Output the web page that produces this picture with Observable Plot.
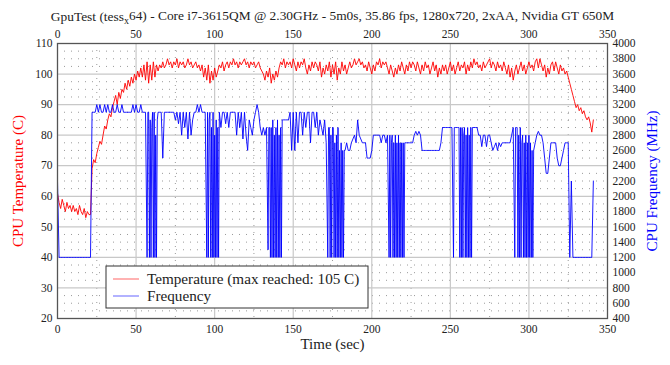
<!DOCTYPE html>
<html><head><meta charset="utf-8">
<script src="https://cdn.jsdelivr.net/npm/d3@7"></script>
<script src="https://cdn.jsdelivr.net/npm/@observablehq/plot@0.6"></script>
<style>html,body{margin:0;padding:0;background:#fff}</style>
</head><body><div id="chart"></div>
<script>
// ---- text ----
const titlePre = "GpuTest (tess";
const titleSub = "x";
const titlePost = "64) - Core i7-3615QM @ 2.30GHz - 5m0s, 35.86 fps, 1280x720, 2xAA, Nvidia GT 650M";
const xLabel = "Time (sec)";
const yLeftLabel = "CPU Temperature (C)";
const yRightLabel = "CPU Frequency (MHz)";
const legendNames = ["Temperature (max reached: 105 C)", "Frequency"];

// ---- ticks ----
const xTicks = [0, 50, 100, 150, 200, 250, 300, 350];
const tempTicks = [20, 30, 40, 50, 60, 70, 80, 90, 100, 110];
const freqTicks = [400, 600, 800, 1000, 1200, 1400, 1600, 1800, 2000, 2200, 2400, 2600, 2800, 3000, 3200, 3400, 3600, 3800, 4000];

// ---- data: one sample per second, t = 0 .. 341 ----
const temperature = [
  61, 58, 56, 59, 57, 55, 58, 56, 57, 55,
  57, 55, 56, 54, 57, 55, 54, 56, 53, 55,
  54, 54, 69, 72, 71, 74, 76, 78, 77, 80,
  83, 82, 85, 87, 86, 89, 91, 93, 90, 94,
  92, 95, 94, 97, 95, 98, 96, 99, 97, 100,
  98, 101, 99, 102, 99, 103, 98, 104, 97, 103,
  98, 104, 99, 103, 101, 103, 102, 104, 102, 103,
  105, 103, 104, 102, 104, 103, 105, 102, 104, 103,
  104, 102, 103, 105, 103, 104, 102, 103, 104, 102,
  103, 101, 103, 99, 102, 98, 103, 97, 101, 98,
  102, 99, 101, 103, 102, 104, 101, 103, 104, 102,
  104, 103, 105, 103, 104, 102, 104, 103, 104, 105,
  103, 104, 102, 104, 103, 104, 102, 103, 104, 102,
  101, 100, 98, 101, 99, 102, 97, 100, 98, 101,
  99, 102, 104, 103, 105, 102, 104, 103, 104, 102,
  105, 103, 101, 104, 102, 104, 103, 105, 102, 100,
  103, 101, 104, 102, 104, 103, 101, 104, 99, 102,
  100, 103, 101, 104, 99, 103, 100, 104, 98, 102,
  100, 104, 101, 103, 100, 102, 104, 102, 103, 105,
  103, 104, 105, 103, 104, 102, 103, 101, 104, 102,
  100, 103, 101, 104, 103, 105, 102, 104, 103, 104,
  102, 100, 103, 101, 99, 102, 100, 103, 101, 104,
  102, 100, 103, 101, 104, 102, 104, 103, 101, 104,
  102, 100, 103, 101, 104, 102, 103, 100, 102, 104,
  101, 103, 99, 102, 100, 103, 101, 103, 100, 102,
  104, 101, 103, 100, 102, 104, 101, 103, 102, 104,
  100, 103, 101, 104, 102, 105, 103, 104, 102, 103,
  101, 104, 102, 103, 104, 105, 102, 104, 103, 101,
  104, 102, 103, 101, 104, 102, 100, 103, 99, 102,
  98, 101, 103, 100, 102, 104, 101, 103, 100, 102,
  104, 102, 103, 101, 104, 105, 102, 105, 103, 101,
  103, 99, 102, 100, 103, 104, 101, 104, 102, 100,
  103, 101, 102, 100, 101, 99, 97, 95, 93, 91,
  89, 90, 88, 89, 87, 88, 86, 85, 86, 84,
  81, 85
];
const frequency = [
  2200, 1200, 1200, 1200, 1200, 1200, 1200, 1200, 1200, 1200,
  1200, 1200, 1200, 1200, 1200, 1200, 1200, 1200, 1200, 1200,
  1200, 1200, 3100, 3100, 3100, 3200, 3100, 3200, 3100, 3100,
  3200, 3100, 3200, 3100, 3100, 3200, 3100, 3100, 3200, 3100,
  3100, 3200, 3100, 3100, 3100, 3100, 3100, 3100, 3200, 3100,
  3200, 3100, 3100, 3200, 3100, 3100, 3100, 1200, 3100, 1200,
  3000, 1200, 2900, 1200, 3100, 3100, 3100, 2500, 3100, 3100,
  3100, 3100, 3100, 3100, 3100, 3000, 3100, 2950, 3100, 2800,
  3100, 2900, 3100, 2750, 3100, 2800, 3000, 3100, 3100, 3200,
  3100, 3200, 3100, 3100, 3100, 1200, 3000, 1200, 3100, 1200,
  2900, 1200, 1200, 3100, 2900, 3100, 3100, 2950, 3100, 2900,
  3100, 3100, 3100, 3100, 2800, 3100, 2900, 3100, 2750, 3100,
  2800, 2600, 3000, 2900, 2800, 3000, 3100, 3200, 3100, 2900,
  2800, 2900, 2800, 2900, 1300, 2900, 1200, 3000, 1200, 2800,
  1200, 2900, 1200, 3000, 3000, 3000, 3000, 3000, 3100, 2600,
  3100, 2600, 3100, 2700, 3100, 3100, 2800, 3100, 2900, 3100,
  3100, 2700, 3100, 3100, 2900, 3100, 2800, 3000, 2900, 2800,
  3000, 2700, 1200, 3000, 1200, 2800, 1200, 2900, 1200, 2600,
  1200, 2700, 1200, 2600, 2700, 2600, 2600, 2700, 2750, 2800,
  2700, 3000, 2800, 2750, 2700, 2700, 2700, 2500, 2500, 2500,
  2600, 2800, 2800, 2800, 2800, 2800, 2700, 2800, 2800, 2700,
  2800, 1200, 2800, 1200, 2700, 1200, 2800, 1200, 2700, 2700,
  1200, 2700, 2700, 2700, 2700, 2700, 2700, 2800, 2850, 2800,
  2850, 2800, 2600, 2600, 2600, 2600, 2600, 2600, 2600, 2600,
  2600, 2600, 2600, 2600, 2700, 2900, 2900, 2900, 2900, 2900,
  2900, 2900, 1200, 2900, 2900, 2900, 1200, 2900, 1200, 2800,
  1200, 2900, 1200, 1200, 2900, 2900, 2900, 2900, 2800, 2800,
  2650, 2800, 2800, 2650, 2800, 2800, 2700, 2600, 2650, 2700,
  2600, 2700, 2650, 2700, 2700, 2700, 2700, 2700, 2700, 2800,
  2900, 1200, 2900, 2900, 1200, 2800, 1200, 2700, 1200, 2800,
  1200, 2700, 1200, 2600, 2700, 2800, 2850, 2800, 2800, 2700,
  2500, 2300, 2300, 2500, 2700, 2700, 2700, 2700, 2500, 2400,
  2400, 2500, 2600, 2700, 2700, 2700, 1200, 2200, 1200, 1200,
  1200, 1200, 1200, 1200, 1200, 1200, 1200, 1200, 1200, 1200,
  1200, 2200
];
const sampleSeconds = 1;

// throttling bursts, read at half-second resolution (start second, MHz values)
const burstStep = 0.5;
const burst1Start = 57, burst1 = [1200, 3100, 3100, 1200, 3000, 1200, 2900, 3100, 1200, 3100, 1200, 2800, 1200, 3000];
const burst2Start = 95, burst2 = [1200, 3100, 1200, 3000, 3100, 1200, 2900, 1200, 3100, 1200, 2800, 1200, 3000, 1200, 2900, 1200];
const burst3Start = 134, burst3 = [1300, 2900, 2900, 1200, 2900, 1200, 3000, 1200, 2800, 1200, 2900, 1200, 3000, 1200, 2800, 1200, 2900, 1200];
const burst4Start = 172, burst4 = [1200, 2900, 2900, 1200, 2800, 1200, 2900, 2900, 1200, 2700, 1200, 2800, 1200, 2900, 1200, 2600, 1200, 2700, 1200, 2600, 1200, 2600];
const burst5Start = 211, burst5 = [1200, 2800, 1200, 2700, 2800, 1200, 2700, 1200, 2800, 1200, 2700, 1200, 2800, 1200, 2700, 1200, 2700, 1200, 2700, 1200];
const burst6Start = 252, burst6 = [1200, 2900, 2900, 2900, 2900, 2900, 2900, 2900, 1200, 2900, 1200, 2900, 1200, 2800, 2900, 1200, 2800, 1200, 2900, 1200, 2800, 1200, 2900, 1200];
const burst7Start = 291, burst7 = [1200, 2900, 2900, 2900, 1200, 2800, 1200, 2900, 1200, 2700, 2800, 1200, 2700, 1200, 2800, 1200, 2700, 1200, 2800, 1200, 2700, 1200, 2600, 1200];
const bursts = [[burst1Start, burst1], [burst2Start, burst2], [burst3Start, burst3], [burst4Start, burst4],
                [burst5Start, burst5], [burst6Start, burst6], [burst7Start, burst7]];

// ---- scale link between the two y axes (left °C, right MHz) ----
const tempDomain = [20, 110];
const freqDomain = [400, 4000];
const freqToTemp = f => tempDomain[0] + (f - freqDomain[0]) * (tempDomain[1] - tempDomain[0]) / (freqDomain[1] - freqDomain[0]);

const tempRows = temperature.map((v, i) => ({t: i * sampleSeconds, v}));
const inBurst = t => bursts.some(([s, vals]) => t >= s && t < s + vals.length * burstStep);
const freqRows = frequency.map((f, i) => ({t: i * sampleSeconds, f}))
  .filter(d => !inBurst(d.t))
  .concat(bursts.flatMap(([s, vals]) => vals.map((f, j) => ({t: s + j * burstStep, f}))))
  .sort((a, b) => a.t - b.t)
  .map(d => ({t: d.t, v: freqToTemp(d.f)}));

const majorX = xTicks.slice(1, -1);
const minorX = xTicks.slice(0, -1).map((d, i) => (d + xTicks[i + 1]) / 2);
const majorY = tempTicks.slice(1, -1);
const minorY = d3.range(tempDomain[0], tempDomain[1], 2.5).filter(d => d % 10 !== 0);

const FONT = "'Liberation Serif', 'Times New Roman', serif";
const INK = "#222";

const chart = Plot.plot({
  width: 670, height: 365,
  marginLeft: 57, marginRight: 63, marginTop: 43, marginBottom: 47,
  style: {fontFamily: FONT, fontSize: "11.5px", color: INK, background: "#fff"},
  x: {domain: [0, 350]},
  y: {domain: tempDomain},
  marks: [
    Plot.gridY(minorY, {stroke: "#9a9a9a", strokeOpacity: 1, strokeWidth: 1, strokeDasharray: "1,6"}),
    Plot.gridX(minorX, {stroke: "#9a9a9a", strokeOpacity: 1, strokeWidth: 1, strokeDasharray: "1,6"}),
    Plot.gridY(majorY, {stroke: "#c8c8c8", strokeOpacity: 1, strokeWidth: 1.2}),
    Plot.gridX(majorX, {stroke: "#c8c8c8", strokeOpacity: 1, strokeWidth: 1.2}),
    Plot.line(tempRows, {x: "t", y: "v", stroke: "#ff0000", strokeWidth: 0.9}),
    Plot.line(freqRows, {x: "t", y: "v", stroke: "#0000ff", strokeWidth: 0.9}),
    Plot.frame({stroke: "#555", strokeWidth: 1.3}),
    Plot.axisY(tempTicks, {anchor: "left", tickSize: 0, tickPadding: 5, label: null, fill: INK}),
    Plot.axisY(freqTicks.map(freqToTemp), {anchor: "right", tickSize: 0, tickPadding: 5, label: null, fill: INK,
      tickFormat: d => String(Math.round(freqDomain[0] + (d - tempDomain[0]) * (freqDomain[1] - freqDomain[0]) / (tempDomain[1] - tempDomain[0])))}),
    Plot.axisX(xTicks, {anchor: "bottom", tickSize: 0, tickPadding: 6, label: null, fill: INK}),
    Plot.axisX(xTicks, {anchor: "top", tickSize: 0, tickPadding: 6, label: null, fill: INK}),
    Plot.text([titlePre + titleSub + titlePost], {frameAnchor: "top", dy: -32, fontSize: 13.4, fill: INK}),
    Plot.text([xLabel], {frameAnchor: "bottom", dy: 30, fontSize: 15, fill: INK}),
    Plot.text([yLeftLabel], {frameAnchor: "left", dx: -39, rotate: -90, textAnchor: "middle", fontSize: 15, fill: "#ff0000"}),
    Plot.text([yRightLabel], {frameAnchor: "right", dx: 45, rotate: -90, textAnchor: "middle", fontSize: 15, fill: "#0000ff"})
  ]
});
document.getElementById("chart").appendChild(chart);

// subscript in the title
const svg = d3.select(chart);
svg.selectAll("text").filter(function() { return this.textContent === titlePre + titleSub + titlePost; })
  .each(function() {
    const t = d3.select(this);
    t.text(null);
    t.append("tspan").text(titlePre);
    t.append("tspan").attr("dy", "0.3em").attr("font-size", "0.75em").text(titleSub);
    t.append("tspan").attr("dy", "-0.3em").text(titlePost);
  });

// legend box
const lg = svg.append("g").attr("font-family", FONT).attr("font-size", 15.2).attr("fill", INK).attr("text-anchor", "start");
lg.append("rect").attr("x", 106).attr("y", 266).attr("width", 262).attr("height", 42)
  .attr("fill", "#fff").attr("stroke", "#333").attr("stroke-width", 1);
[["#ff0000", 279], ["#0000ff", 296]].forEach(([c, y], i) => {
  lg.append("line").attr("x1", 113).attr("x2", 139).attr("y1", y).attr("y2", y)
    .attr("stroke", c).attr("stroke-opacity", 0.5).attr("stroke-width", 1.2);
  lg.append("text").attr("x", 147).attr("y", y).attr("dy", "0.35em").attr("text-anchor", "start").text(legendNames[i]);
});
</script></body></html>
